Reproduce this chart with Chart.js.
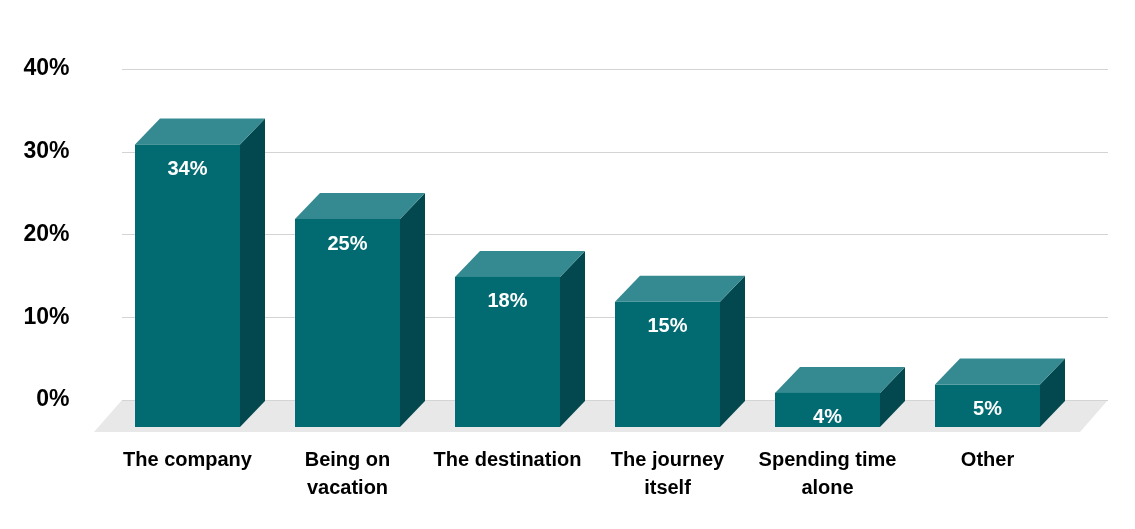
<!DOCTYPE html>
<html><head><meta charset="utf-8">
<script src="https://cdn.jsdelivr.net/npm/chart.js@4"></script>
<style>html,body{margin:0;padding:0;background:#fff}#w{width:1135px;height:529px}</style>
</head><body><div id="w"><canvas id="c"></canvas></div>
<script>
const categories = [["The company"],["Being on","vacation"],["The destination"],["The journey","itself"],["Spending time","alone"],["Other"]];
const values = [34,25,18,15,4,5];
const yTicks = [0,10,20,30,40];

const DX = 25, DY = 26, DROP = 27;
const FONT = '"Liberation Sans", Arial, sans-serif';

const plugin = {
  id: 'bars3d',
  beforeDatasetsDraw(chart){
    const ctx = chart.ctx, y = chart.scales.y;
    const base = y.getPixelForValue(0);
    ctx.save();
    ctx.fillStyle = '#e8e8e8';
    ctx.beginPath();
    ctx.moveTo(122, base); ctx.lineTo(1108, base);
    ctx.lineTo(1108 - 28, base + 32); ctx.lineTo(122 - 28, base + 32);
    ctx.closePath(); ctx.fill();
    ctx.strokeStyle = '#d4d4d4'; ctx.lineWidth = 1;
    yTicks.forEach(t => {
      const py = Math.round(y.getPixelForValue(t)) + 0.5;
      ctx.beginPath(); ctx.moveTo(122, py); ctx.lineTo(1108, py); ctx.stroke();
    });
    ctx.restore();
  },
  afterDatasetsDraw(chart){
    const ctx = chart.ctx;
    const meta = chart.getDatasetMeta(0);
    const base = chart.scales.y.getPixelForValue(0);
    ctx.save();
    meta.data.forEach((bar, i) => {
      const w = 105;
      const bx0 = bar.x - w/2, bx1 = bar.x + w/2, by = bar.y;
      const fx0 = bx0 - DX, fx1 = bx1 - DX, fy = by + DY, fb = base + DROP;
      ctx.fillStyle = '#03484e';
      ctx.beginPath();
      ctx.moveTo(fx1, fy); ctx.lineTo(bx1, by); ctx.lineTo(bx1, fb - DY); ctx.lineTo(fx1, fb);
      ctx.closePath(); ctx.fill();
      ctx.fillStyle = '#358a91';
      ctx.beginPath();
      ctx.moveTo(fx0, fy); ctx.lineTo(bx0, by); ctx.lineTo(bx1, by); ctx.lineTo(fx1, fy);
      ctx.closePath(); ctx.fill();
      ctx.fillStyle = '#026b72';
      ctx.fillRect(fx0, fy, w, fb - fy);
      ctx.fillStyle = '#ffffff';
      ctx.font = 'bold 20px ' + FONT;
      ctx.textAlign = 'center'; ctx.textBaseline = 'middle';
      ctx.fillText(values[i] + '%', (fx0 + fx1)/2, fy + 25);
      ctx.fillStyle = '#000';
      ctx.font = 'bold 20px ' + FONT;
      categories[i].forEach((line, k) => ctx.fillText(line, (fx0 + fx1)/2, 460 + k*28));
    });
    ctx.restore();
  }
};

new Chart(document.getElementById('c'), {
  type: 'bar',
  data: { labels: categories.map(c => c.join(' ')), datasets: [{ data: values, backgroundColor: 'rgba(0,0,0,0)' }] },
  options: {
    responsive: true, maintainAspectRatio: false, animation: false,
    layout: { padding: { left: 0, right: 42.5, top: -6, bottom: 129 } },
    plugins: { legend: { display: false }, tooltip: { enabled: false } },
    scales: {
      x: { display: false },
      y: {
        min: 0, max: 40,
        afterFit(s){ s.width = 132.5; },
        afterBuildTicks(s){ s.ticks = yTicks.map(v => ({ value: v })); },
        grid: { display: false }, border: { display: false },
        ticks: { padding: 55, color: '#000', font: { family: FONT, size: 23, weight: 'bold' }, callback: v => v + '%' }
      }
    }
  },
  plugins: [plugin]
});
</script></body></html>
